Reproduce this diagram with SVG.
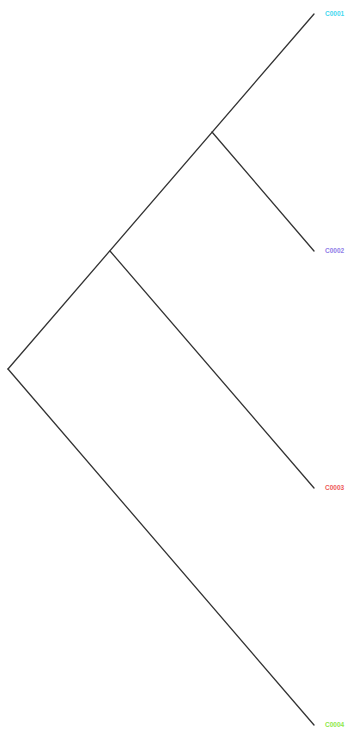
<svg xmlns="http://www.w3.org/2000/svg" width="349" height="736" viewBox="0 0 349 736">
<style>
.e{stroke:#333;stroke-width:1.3;fill:none;stroke-linecap:round}
.l{font-family:"Liberation Sans",Arial,sans-serif;font-size:6.5px;font-weight:bold;dominant-baseline:middle}
</style>
<rect width="349" height="736" fill="#fff"/>
<g id="connectors">
<line class="e" x1="8" y1="369" x2="314" y2="14"/>
<line class="e" x1="212" y1="132" x2="314" y2="251"/>
<line class="e" x1="110" y1="251" x2="314" y2="488"/>
<line class="e" x1="8" y1="369" x2="314" y2="725"/>
</g>
<g id="leaf1"><text class="l" x="325" y="14.5" fill="#44d8f0">C0001</text></g>
<g id="leaf2"><text class="l" x="325" y="251.5" fill="#8f7de8">C0002</text></g>
<g id="leaf3"><text class="l" x="325" y="488.5" fill="#ee5a5a">C0003</text></g>
<g id="leaf4"><text class="l" x="325" y="725.5" fill="#8ee84a">C0004</text></g>
</svg>
